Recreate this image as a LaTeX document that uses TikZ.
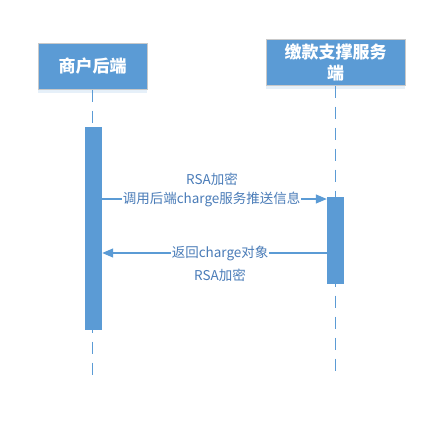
\documentclass[tikz,border=0pt]{standalone}
\usepackage{fontspec}
\setmainfont{Noto Sans CJK SC}
\usetikzlibrary{arrows.meta,shadows}
\definecolor{boxblue}{HTML}{5B9BD5}
\definecolor{boxedge}{HTML}{C9C9C9}
\definecolor{txtblue}{HTML}{4A7CB8}
\tikzset{
  header/.style={draw=boxedge, line width=1pt, fill=boxblue, text=white, font=\fontsize{17}{21}\selectfont\bfseries, align=center, inner sep=0pt,
    drop shadow={shadow xshift=0pt, shadow yshift=-4pt, opacity=0.25, fill=boxblue!60}},
  actbar/.style={fill=boxblue, draw=none, minimum width=17pt, inner sep=0pt},
  lifeline/.style={draw=boxblue, line width=1.6pt, dash pattern=on 12pt off 9pt},
  msg/.style={draw=boxblue, line width=1.2pt, -{Triangle[length=11pt,width=9pt]}},
  lbl/.style={text=txtblue, font=\fontsize{13.5}{16}\selectfont, inner sep=1pt},
}
\begin{document}
\begin{tikzpicture}[x=1pt,y=-1pt]
\useasboundingbox (0,0) rectangle (446,444);
% headers
\node[header, minimum width=109pt, minimum height=45pt] (h1) at (92.5,66.5) {商户后端};
\node[header, minimum width=139pt, minimum height=45pt] (h2) at (335.5,62.5) {缴款支撑服务\\端};
% lifeline ends
\coordinate (e1) at (92.5,380);
\coordinate (e2) at (335.5,378);
\draw[lifeline] (h1.south) -- (e1);
\draw[lifeline] (h2.south) -- (e2);
% activation bars
\node[actbar, minimum height=203pt] (a1) at (93.5,228.5) {};
\node[actbar, minimum height=87pt] (a2) at (335.5,240.5) {};
% messages
\draw[msg] (a1.east |- 0,199) -- (a2.west |- 0,199) coordinate[pos=0.487] (m1);
\node[lbl, fill=white] (t1) at (m1) {调用后端charge服务推送信息};
\node[lbl] (t1b) at (212,179) {RSA加密};
\draw[msg] (a2.west |- 0,253) -- (a1.east |- 0,253) coordinate[pos=0.475] (m2);
\node[lbl, fill=white] (t2) at (m2) {返回charge对象};
\node[lbl] (t2b) at (220,275) {RSA加密};
\end{tikzpicture}
\end{document}
